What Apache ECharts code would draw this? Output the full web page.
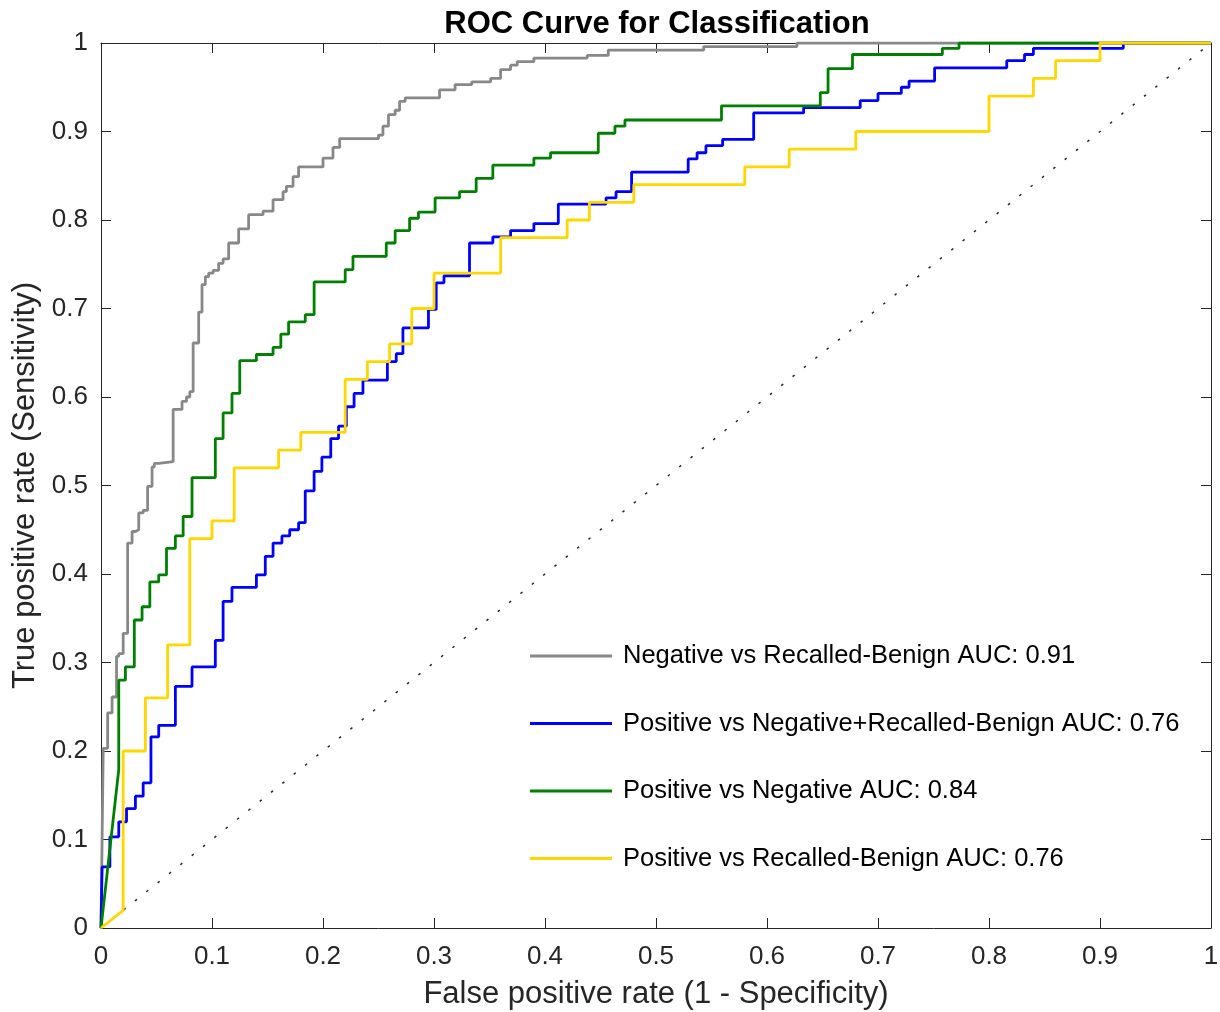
<!DOCTYPE html>
<html>
<head>
<meta charset="utf-8">
<script src="https://cdn.jsdelivr.net/npm/echarts@6/dist/echarts.min.js"></script>
<style>
  html, body { margin: 0; padding: 0; background: #fff; }
  #roc { width: 1220px; height: 1012px; }
</style>
</head>
<body>
<div id="roc"></div>
<script>
// legend names, in the order of the reference legend
var seriesNames = [
    'Negative vs Recalled-Benign AUC: 0.91',
    'Positive vs Negative+Recalled-Benign AUC: 0.76',
    'Positive vs Negative AUC: 0.84',
    'Positive vs Recalled-Benign AUC: 0.76'
];

var tickLabels = ['0', '0.1', '0.2', '0.3', '0.4', '0.5', '0.6', '0.7', '0.8', '0.9', '1'];

// [false positive rate, true positive rate] corners
var negVsRecalled = [
    [0, 0], [0.002, 0.203], [0.006, 0.203], [0.006, 0.243], [0.010, 0.243], [0.010, 0.261],
    [0.014, 0.261], [0.014, 0.307], [0.016, 0.307], [0.016, 0.310], [0.020, 0.310], [0.020, 0.333],
    [0.024, 0.333], [0.024, 0.435], [0.028, 0.435], [0.028, 0.448], [0.031, 0.448], [0.031, 0.450],
    [0.034, 0.450], [0.034, 0.469], [0.038, 0.469], [0.038, 0.472], [0.042, 0.472], [0.042, 0.499],
    [0.046, 0.499], [0.046, 0.521], [0.048, 0.521], [0.048, 0.525], [0.052, 0.525], [0.052, 0.527],
    [0.065, 0.527], [0.065, 0.586], [0.073, 0.586], [0.073, 0.595], [0.077, 0.595], [0.077, 0.600],
    [0.080, 0.600], [0.080, 0.606], [0.083, 0.606], [0.083, 0.661], [0.088, 0.661], [0.088, 0.696],
    [0.091, 0.696], [0.091, 0.727], [0.094, 0.727], [0.094, 0.736], [0.097, 0.736], [0.097, 0.740],
    [0.101, 0.740], [0.101, 0.743], [0.106, 0.743], [0.106, 0.751], [0.110, 0.751], [0.110, 0.756],
    [0.115, 0.756], [0.115, 0.774], [0.124, 0.774], [0.124, 0.790], [0.133, 0.790], [0.133, 0.806],
    [0.146, 0.806], [0.146, 0.810], [0.155, 0.810], [0.155, 0.823], [0.164, 0.823], [0.164, 0.832],
    [0.167, 0.832], [0.167, 0.838], [0.173, 0.838], [0.173, 0.849], [0.178, 0.849], [0.178, 0.860],
    [0.200, 0.860], [0.200, 0.870], [0.209, 0.870], [0.209, 0.882], [0.215, 0.882], [0.215, 0.892],
    [0.250, 0.892], [0.250, 0.896], [0.254, 0.896], [0.254, 0.906], [0.259, 0.906], [0.259, 0.919],
    [0.265, 0.919], [0.265, 0.924], [0.269, 0.924], [0.269, 0.934], [0.274, 0.934], [0.274, 0.938],
    [0.305, 0.938], [0.305, 0.947], [0.319, 0.947], [0.319, 0.953], [0.334, 0.953], [0.334, 0.956],
    [0.351, 0.956], [0.351, 0.960], [0.360, 0.960], [0.360, 0.970], [0.369, 0.970], [0.369, 0.975],
    [0.375, 0.975], [0.375, 0.979], [0.390, 0.979], [0.390, 0.983], [0.438, 0.983], [0.438, 0.986],
    [0.457, 0.986], [0.457, 0.992], [0.543, 0.992], [0.543, 0.996], [0.627, 0.996], [0.627, 1],
    [1, 1]
];

var posVsAll = [
    [0, 0], [0.001, 0.069], [0.008, 0.069], [0.008, 0.103], [0.016, 0.103], [0.016, 0.120],
    [0.023, 0.120], [0.023, 0.135], [0.031, 0.135], [0.031, 0.149], [0.038, 0.149], [0.038, 0.164],
    [0.045, 0.164], [0.045, 0.216], [0.052, 0.216], [0.052, 0.229], [0.067, 0.229], [0.067, 0.273],
    [0.082, 0.273], [0.082, 0.295], [0.103, 0.295], [0.103, 0.325], [0.110, 0.325], [0.110, 0.369],
    [0.118, 0.369], [0.118, 0.385], [0.140, 0.385], [0.140, 0.399], [0.148, 0.399], [0.148, 0.420],
    [0.155, 0.420], [0.155, 0.435], [0.163, 0.435], [0.163, 0.443], [0.170, 0.443], [0.170, 0.450],
    [0.178, 0.450], [0.178, 0.458], [0.184, 0.458], [0.184, 0.494], [0.192, 0.494], [0.192, 0.516],
    [0.199, 0.516], [0.199, 0.532], [0.207, 0.532], [0.207, 0.553], [0.214, 0.553], [0.214, 0.567],
    [0.221, 0.567], [0.221, 0.589], [0.228, 0.589], [0.228, 0.604], [0.236, 0.604], [0.236, 0.619],
    [0.258, 0.619], [0.258, 0.640], [0.266, 0.640], [0.266, 0.649], [0.272, 0.649], [0.272, 0.678],
    [0.295, 0.678], [0.295, 0.699], [0.302, 0.699], [0.302, 0.729], [0.309, 0.729], [0.309, 0.737],
    [0.332, 0.737], [0.332, 0.774], [0.353, 0.774], [0.353, 0.781], [0.369, 0.781], [0.369, 0.788],
    [0.390, 0.788], [0.390, 0.796], [0.412, 0.796], [0.412, 0.818], [0.455, 0.818], [0.455, 0.825],
    [0.464, 0.825], [0.464, 0.832], [0.478, 0.832], [0.478, 0.854], [0.529, 0.854], [0.529, 0.869],
    [0.537, 0.869], [0.537, 0.876], [0.545, 0.876], [0.545, 0.884], [0.560, 0.884], [0.560, 0.891],
    [0.588, 0.891], [0.588, 0.921], [0.633, 0.921], [0.633, 0.927], [0.684, 0.927], [0.684, 0.935],
    [0.700, 0.935], [0.700, 0.943], [0.721, 0.943], [0.721, 0.950], [0.728, 0.950], [0.728, 0.957],
    [0.751, 0.957], [0.751, 0.972], [0.816, 0.972], [0.816, 0.980], [0.832, 0.980], [0.832, 0.987],
    [0.840, 0.987], [0.840, 0.994], [0.921, 0.994], [0.921, 1], [1, 1]
];

var posVsNeg = [
    [0, 0], [0.016, 0.179], [0.016, 0.280], [0.022, 0.280], [0.022, 0.295], [0.030, 0.295],
    [0.030, 0.348], [0.037, 0.348], [0.037, 0.363], [0.044, 0.363], [0.044, 0.391], [0.052, 0.391],
    [0.052, 0.399], [0.059, 0.399], [0.059, 0.429], [0.067, 0.429], [0.067, 0.443], [0.074, 0.443],
    [0.074, 0.465], [0.082, 0.465], [0.082, 0.509], [0.103, 0.509], [0.103, 0.553], [0.110, 0.553],
    [0.110, 0.582], [0.118, 0.582], [0.118, 0.604], [0.125, 0.604], [0.125, 0.641], [0.140, 0.641],
    [0.140, 0.648], [0.155, 0.648], [0.155, 0.656], [0.162, 0.656], [0.162, 0.671], [0.169, 0.671],
    [0.169, 0.685], [0.184, 0.685], [0.184, 0.693], [0.192, 0.693], [0.192, 0.730], [0.220, 0.730],
    [0.220, 0.744], [0.227, 0.744], [0.227, 0.759], [0.257, 0.759], [0.257, 0.774], [0.265, 0.774],
    [0.265, 0.788], [0.278, 0.788], [0.278, 0.802], [0.286, 0.802], [0.286, 0.809], [0.301, 0.809],
    [0.301, 0.825], [0.323, 0.825], [0.323, 0.832], [0.338, 0.832], [0.338, 0.847], [0.353, 0.847],
    [0.353, 0.862], [0.390, 0.862], [0.390, 0.870], [0.405, 0.870], [0.405, 0.876], [0.448, 0.876],
    [0.448, 0.898], [0.463, 0.898], [0.463, 0.906], [0.472, 0.906], [0.472, 0.913], [0.559, 0.913],
    [0.559, 0.929], [0.648, 0.929], [0.648, 0.944], [0.655, 0.944], [0.655, 0.971], [0.677, 0.971],
    [0.677, 0.987], [0.758, 0.987], [0.758, 0.994], [0.773, 0.994], [0.773, 1], [1, 1]
];

var posVsRecalled = [
    [0, 0], [0.02, 0.02], [0.02, 0.20], [0.04, 0.20], [0.04, 0.26], [0.06, 0.26], [0.06, 0.32],
    [0.08, 0.32], [0.08, 0.44], [0.10, 0.44], [0.10, 0.46], [0.12, 0.46], [0.12, 0.52], [0.16, 0.52],
    [0.16, 0.54], [0.18, 0.54], [0.18, 0.56], [0.22, 0.56], [0.22, 0.62], [0.24, 0.62], [0.24, 0.64],
    [0.26, 0.64], [0.26, 0.66], [0.28, 0.66], [0.28, 0.70], [0.30, 0.70], [0.30, 0.74], [0.36, 0.74],
    [0.36, 0.78], [0.42, 0.78], [0.42, 0.80], [0.44, 0.80], [0.44, 0.82], [0.48, 0.82], [0.48, 0.84],
    [0.58, 0.84], [0.58, 0.86], [0.62, 0.86], [0.62, 0.88], [0.68, 0.88], [0.68, 0.90], [0.80, 0.90],
    [0.80, 0.94], [0.84, 0.94], [0.84, 0.96], [0.86, 0.96], [0.86, 0.98], [0.90, 0.98], [0.90, 1],
    [1, 1]
];

var chanceLine = [[0, 0], [1, 1]];

var rocChart = echarts.init(document.getElementById('roc'));

var axisColor = '#262626';
var font = '"Liberation Sans", Arial, Helvetica, sans-serif';

function valueAxis(pos, showLabels) {
    return {
        type: 'value',
        position: pos,
        min: 0,
        max: 1,
        interval: 0.1,
        axisLine: { show: true, onZero: false, lineStyle: { color: axisColor, width: 1 } },
        axisTick: { show: true, inside: true, length: 10, lineStyle: { color: axisColor, width: 1 } },
        axisLabel: {
            show: showLabels,
            color: axisColor,
            fontSize: 26,
            fontFamily: font,
            formatter: function (v) { return tickLabels[Math.round(v * 10)]; }
        },
        splitLine: { show: false }
    };
}

var xBottom = valueAxis('bottom', true);
xBottom.axisLabel.margin = 16;
xBottom.name = 'False positive rate (1 - Specificity)';
xBottom.nameLocation = 'middle';
xBottom.nameGap = 51;
xBottom.nameTextStyle = { color: axisColor, fontSize: 31, fontFamily: font };

var yLeft = valueAxis('left', true);
yLeft.axisLabel.margin = 13;
yLeft.name = 'True positive rate (Sensitivity)';
yLeft.nameLocation = 'middle';
yLeft.nameGap = 58;
yLeft.nameTextStyle = { color: axisColor, fontSize: 31, fontFamily: font };

function rocSeries(name, data, color) {
    return {
        name: name,
        type: 'line',
        data: data,
        showSymbol: false,
        symbol: 'none',
        lineStyle: { color: color, width: 2.8 },
        itemStyle: { color: color }
    };
}

option = {
    animation: false,
    backgroundColor: '#fff',
    title: {
        text: 'ROC Curve for Classification',
        left: 652,
        top: 4,
        textAlign: 'center',
        textStyle: { color: '#000', fontSize: 31, fontWeight: 'bold', fontFamily: font }
    },
    legend: {
        data: seriesNames,
        orient: 'vertical',
        left: 530,
        top: 643,
        padding: 0,
        icon: 'path://M0,0L82,0L82,2.8L0,2.8Z',
        itemWidth: 82,
        itemHeight: 26,
        itemGap: 41.5,
        textStyle: { color: '#000', fontSize: 25.5, lineHeight: 26, fontFamily: font, padding: [0, 0, 0, 6] }
    },
    grid: {
        left: 101,
        right: 9,
        top: 43,
        bottom: 84,
        outerBoundsMode: 'none'
    },
    xAxis: [xBottom, valueAxis('top', false)],
    yAxis: [yLeft, valueAxis('right', false)],
    series: [
        {
            name: 'chance',
            type: 'line',
            data: chanceLine,
            showSymbol: false,
            symbol: 'none',
            lineStyle: { color: axisColor, width: 1.5, type: [2.5, 12] }
        },
        rocSeries(seriesNames[0], negVsRecalled, '#888888'),
        rocSeries(seriesNames[1], posVsAll, '#0000ff'),
        rocSeries(seriesNames[2], posVsNeg, '#008000'),
        rocSeries(seriesNames[3], posVsRecalled, '#ffd700')
    ]
};

rocChart.setOption(option, true);
</script>
</body>
</html>
